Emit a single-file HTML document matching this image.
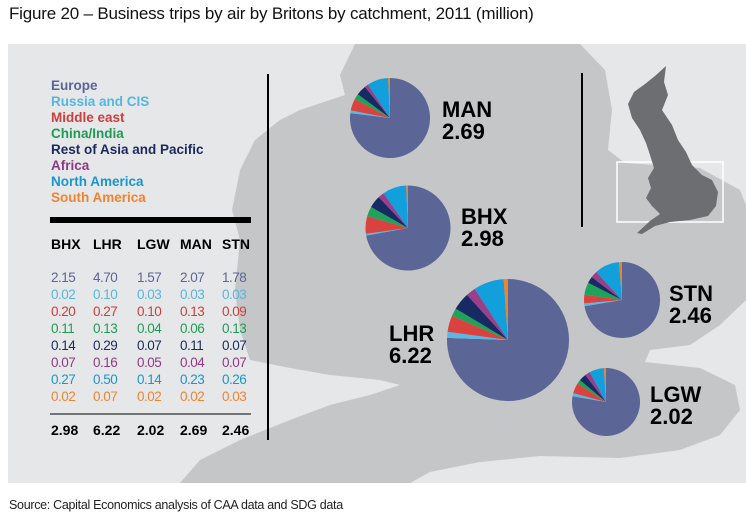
<!DOCTYPE html>
<html><head><meta charset="utf-8"><style>
body{margin:0;background:#fff;width:746px;height:527px;overflow:hidden;font-family:"Liberation Sans",Arial,sans-serif;position:relative}
.t{position:absolute;white-space:nowrap}
</style></head><body>
<div class="t" style="left:9px;top:4px;font-size:17px;color:#111;letter-spacing:-0.2px">Figure 20 – Business trips by air by Britons by catchment, 2011 (million)</div>
<svg id="s" width="746" height="527" style="position:absolute;left:0;top:0">
<rect x="8" y="44" width="738" height="439" fill="#e6e7e9"/>
<polygon fill="#c5c6c8" points="355,44 580,44 605,70 612,110 608,150 625,163 700,168 740,190 746,205 746,300 720,325 690,345 650,350 645,362 700,368 735,385 740,410 720,435 680,450 620,458 540,456 480,462 430,472 410,483 180,483 200,460 240,440 290,420 330,405 370,395 400,385 380,380 330,375 290,368 250,360 240,330 235,290 240,240 232,210 240,170 255,140 280,120 300,110 345,95 340,75"/>
<rect x="617" y="162" width="106" height="60" fill="none" stroke="#fff" stroke-width="1.5"/>
<polygon fill="#6d6e71" points="666,66 664,82 668,95 662,110 672,125 678,140 686,152 692,165 702,175 712,180 718,192 716,206 708,216 690,220 670,222 655,226 642,234 637,233 650,221 660,214 652,206 646,198 651,188 648,178 654,168 650,155 646,143 640,130 632,118 628,104 634,92 645,84 655,76"/>
<line x1="268" y1="74" x2="268" y2="440" stroke="#000" stroke-width="2"/>
<line x1="582" y1="73" x2="582" y2="227" stroke="#000" stroke-width="2"/>
<rect x="50" y="217" width="201" height="6" fill="#000"/>
<line x1="50" y1="414" x2="251" y2="414" stroke="#000" stroke-width="1"/>
<g id="pies"></g>
</svg>
<div style="position:absolute;left:51px;top:78px;font-size:13.5px;font-weight:bold;line-height:16px">
<div style="color:#5b6596">Europe</div><div style="color:#55b6e0">Russia and CIS</div><div style="color:#c9403c">Middle east</div><div style="color:#1f9b55">China/India</div><div style="color:#1b2a5e">Rest of Asia and Pacific</div><div style="color:#8f3b82">Africa</div><div style="color:#1a96cc">North America</div><div style="color:#ef8430">South America</div>
</div>
<div id="tbl"></div>
<div class="t" style="left:442px;top:99px;font-size:22px;font-weight:bold;line-height:22px">MAN<br>2.69</div>
<div class="t" style="left:461px;top:206px;font-size:22px;font-weight:bold;line-height:22px">BHX<br>2.98</div>
<div class="t" style="left:389px;top:323px;font-size:22px;font-weight:bold;line-height:22px">LHR<br>6.22</div>
<div class="t" style="left:669px;top:283px;font-size:22px;font-weight:bold;line-height:22px">STN<br>2.46</div>
<div class="t" style="left:650px;top:384px;font-size:22px;font-weight:bold;line-height:22px">LGW<br>2.02</div>
<div class="t" style="left:9px;top:498px;font-size:12.5px;color:#222;letter-spacing:-0.3px">Source: Capital Economics analysis of CAA data and SDG data</div>
<script>
var cols=["#5b6596","#5bb8e6","#d9423e","#1fa35a","#172a63","#9a3f8a","#12a0dc","#f0832a"];
var tc=["#5b6596","#55b6e0","#c9403c","#1f9b55","#1b2a5e","#8f3b82","#1a96cc","#ef8430"];
var d={BHX:[2.15,.02,.20,.11,.14,.07,.27,.02],LHR:[4.70,.10,.27,.13,.29,.16,.50,.07],LGW:[1.57,.03,.10,.04,.07,.05,.14,.02],MAN:[2.07,.03,.13,.06,.11,.04,.23,.02],STN:[1.78,.03,.09,.13,.07,.07,.26,.03]};
var tot={BHX:"2.98",LHR:"6.22",LGW:"2.02",MAN:"2.69",STN:"2.46"};
var pos={MAN:[390,118,40],BHX:[408,228,42.5],LHR:[508,340,61],STN:[622,300,38],LGW:[606,402,34]};
var g=document.getElementById("pies"),h="";
for(var k in pos){var p=pos[k],v=d[k],s=v.reduce(function(a,b){return a+b}),a=0;
 for(var i=0;i<8;i++){var a2=a+v[i]/s*2*Math.PI;
  var x1=p[0]+p[2]*Math.sin(a),y1=p[1]-p[2]*Math.cos(a),x2=p[0]+p[2]*Math.sin(a2),y2=p[1]-p[2]*Math.cos(a2);
  h+='<path fill="'+cols[i]+'" d="M'+p[0]+','+p[1]+'L'+x1+','+y1+'A'+p[2]+','+p[2]+' 0 '+(a2-a>Math.PI?1:0)+' 1 '+x2+','+y2+'Z"/>';a=a2;}}
g.innerHTML=h;
var t="",xs=[51,93,137,180,222],ks=["BHX","LHR","LGW","MAN","STN"];
for(var c=0;c<5;c++){var k=ks[c];
 t+='<div class="t" style="left:'+xs[c]+'px;top:236px;font-size:14px;font-weight:bold">'+k+'</div>';
 for(var r=0;r<8;r++)t+='<div class="t" style="left:'+xs[c]+'px;top:'+(270+r*17)+'px;font-size:13.5px;color:'+tc[r]+';letter-spacing:-0.5px">'+d[k][r].toFixed(2)+'</div>';
 t+='<div class="t" style="left:'+xs[c]+'px;top:422px;font-size:14px;font-weight:bold">'+tot[k]+'</div>';}
document.getElementById("tbl").innerHTML=t;
</script>
</body></html>
